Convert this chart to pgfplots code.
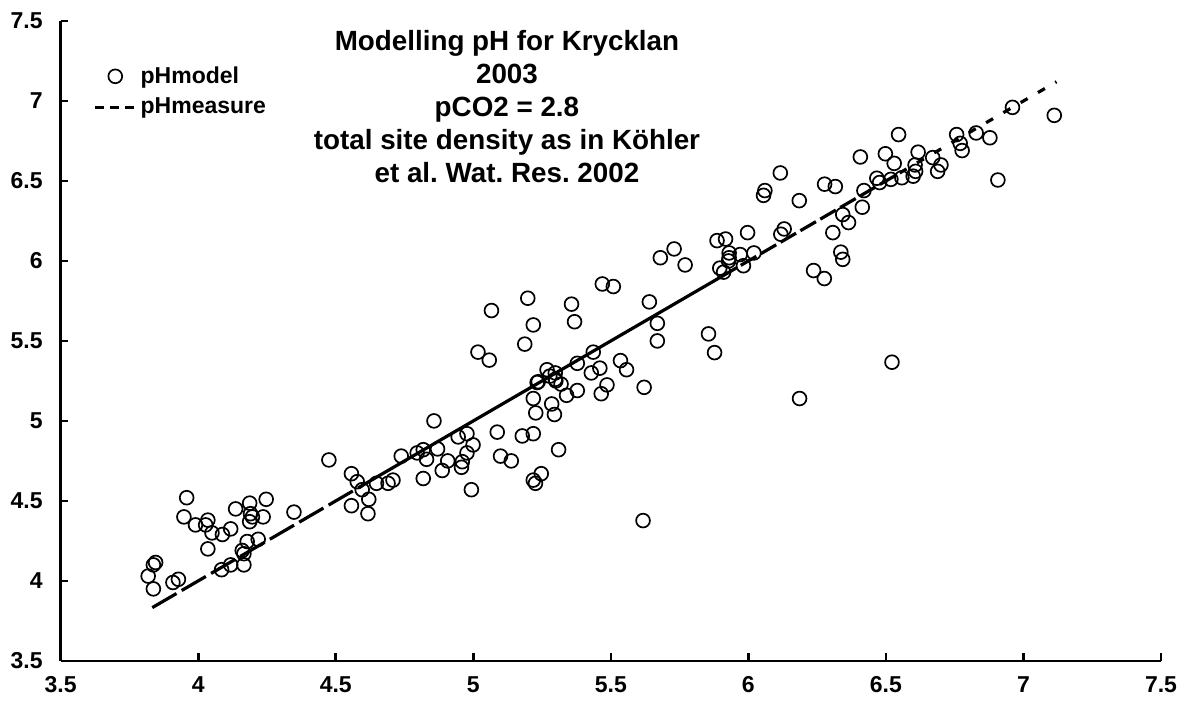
\documentclass[border=0pt]{standalone}
\usepackage{fontspec}
\setmainfont{Liberation Sans}
\usepackage{pgfplots}
\pgfplotsset{compat=1.18}
\frenchspacing
\begin{document}
\begin{tikzpicture}
\begin{axis}[
  name=ax,
  scale only axis,
  width=550.25pt, height=320pt,
  xmin=3.5, xmax=7.5, ymin=3.5, ymax=7.5,
  xtick={3.5,4,4.5,5,5.5,6,6.5,7,7.5},
  ytick={3.5,4,4.5,5,5.5,6,6.5,7,7.5},
  axis x line=bottom, axis y line=left,
  axis line style={-, line width=1.3pt},
  tick align=inside,
  major tick length=3.75pt,
  tick style={line width=1.3pt, black},
  /pgf/number format/assume math mode=true,
  ticklabel style={font=\bfseries\fontsize{11.5}{13}\selectfont},
  xticklabel style={yshift=-4.5pt},
  yticklabel style={xshift=-5.5pt},
  clip=false,
  legend style={at={(0.024,0.942)}, anchor=north west, draw=none, fill=none,
    font=\bfseries\fontsize{11.5}{13}\selectfont, row sep=2pt, nodes={inner xsep=1.8pt}},
  legend cell align=left,
]
\addplot[only marks, mark=o, mark size=3.45pt, mark options={line width=0.85pt, fill=white, draw=black},
  legend image code/.code={\draw[mark repeat=2,mark phase=2] plot coordinates {(0pt,0pt)(10.25pt,0pt)(20.5pt,0pt)};}]
table {
3.818 4.03
3.837 4.10
3.845 4.115
3.837 3.95
3.908 3.99
3.928 4.01
3.958 4.52
3.948 4.40
3.99 4.35
4.035 4.38
4.027 4.35
4.05 4.30
4.035 4.20
4.088 4.29
4.085 4.07
4.118 4.325
4.118 4.10
4.136 4.45
4.16 4.19
4.166 4.17
4.166 4.10
4.178 4.246
4.187 4.486
4.19 4.42
4.197 4.40
4.187 4.37
4.218 4.26
4.236 4.40
4.247 4.51
4.348 4.43
4.475 4.756
4.557 4.67
4.557 4.47
4.578 4.62
4.596 4.57
4.62 4.51
4.617 4.42
4.648 4.61
4.69 4.61
4.708 4.63
4.738 4.78
4.796 4.80
4.818 4.82
4.83 4.76
4.818 4.64
4.857 5.00
4.87 4.825
4.887 4.69
4.907 4.75
4.945 4.90
4.977 4.92
4.999 4.85
4.977 4.80
4.96 4.745
4.957 4.71
4.993 4.57
5.087 4.93
5.099 4.78
5.138 4.75
5.178 4.906
5.218 4.92
5.31 4.82
5.218 4.63
5.226 4.61
5.247 4.67
5.232 5.24
5.218 5.14
5.227 5.05
5.285 5.106
5.295 5.04
5.30 5.25
5.066 5.69
5.198 5.767
5.218 5.60
5.187 5.48
5.017 5.43
5.058 5.38
5.357 5.73
5.368 5.62
5.469 5.856
5.509 5.84
5.64 5.744
5.669 5.61
5.669 5.50
5.68 6.02
5.73 6.075
5.77 5.975
5.436 5.43
5.378 5.36
5.268 5.32
5.298 5.30
5.298 5.26
5.278 5.28
5.319 5.23
5.236 5.245
5.339 5.16
5.378 5.19
5.429 5.30
5.46 5.33
5.535 5.377
5.557 5.32
5.486 5.225
5.465 5.17
5.621 5.21
5.617 4.377
5.855 5.544
5.877 5.427
6.186 5.14
6.522 5.367
5.886 6.127
5.917 6.137
5.997 6.177
5.93 6.05
5.97 6.04
5.93 6.02
5.928 6.00
5.896 5.955
5.91 5.93
5.982 5.97
6.02 6.05
6.13 6.20
6.118 6.167
6.237 5.94
6.276 5.89
6.307 6.177
6.336 6.055
6.343 6.01
6.343 6.29
6.364 6.24
6.414 6.336
6.055 6.41
6.06 6.44
6.185 6.377
6.116 6.55
6.277 6.48
6.316 6.465
6.42 6.44
6.407 6.65
6.546 6.79
6.498 6.67
6.53 6.61
6.617 6.68
6.606 6.60
6.608 6.56
6.599 6.53
6.67 6.646
6.70 6.60
6.688 6.56
6.467 6.517
6.477 6.49
6.518 6.51
6.558 6.52
6.757 6.79
6.77 6.735
6.777 6.69
6.828 6.80
6.878 6.77
6.96 6.96
7.112 6.91
6.907 6.506
};
\addlegendentry{pHmodel}
\addplot[black, line width=1.6pt, dash pattern=on 14pt off 3pt,
  legend image code/.code={\draw[black, line width=1.3pt, dash pattern=on 4.5pt off 3pt] (0pt,0pt) -- (20.5pt,0pt);}]
table {
3.833 3.833
4.6 4.6
};
\addlegendentry{pHmeasure}
\addplot[black, line width=1.6pt, forget plot] table {
4.6 4.6
5.9 5.9
};
\addplot[black, line width=1.6pt, dash pattern=on 9pt off 2.5pt, forget plot] table {
5.9 5.9
6.55 6.55
};
\addplot[black, line width=1.6pt, dash pattern=on 4pt off 6pt, forget plot] table {
6.55 6.55
7.12 7.12
};
\node[anchor=north, align=center, inner sep=0pt, font=\bfseries\fontsize{13.9}{16.5}\selectfont]
  at (rel axis cs:0.4056,0.986) {Modelling pH for Krycklan\\2003\\pCO2 = 2.8\\total site density as in Köhler\\et al. Wat. Res. 2002};
\end{axis}
\pgfresetboundingbox
\path (ax.south west) ++(-30.35pt,-23.5pt) rectangle ([shift={(13pt,10.5pt)}]ax.north east);
\end{tikzpicture}
\end{document}
